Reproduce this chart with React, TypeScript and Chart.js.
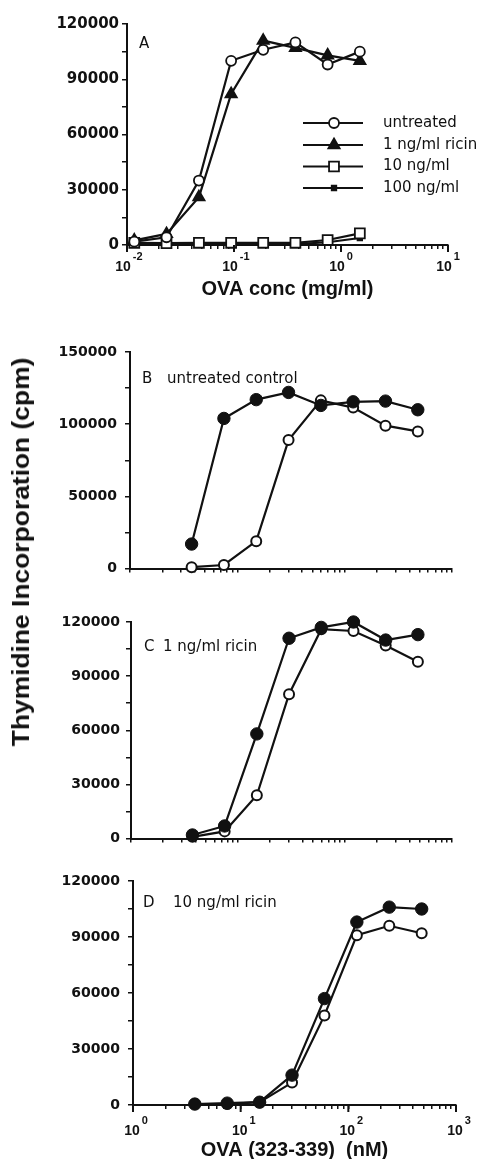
import React, { useEffect, useRef } from 'react';
import { Chart, registerables } from 'chart.js';

Chart.register(...registerables);

// ---------- data ----------
const concA = [0.0117, 0.0234, 0.047, 0.094, 0.1875, 0.375, 0.75, 1.5];
const untreatedA = [1800, 4200, 35000, 100000, 106000, 110000, 98000, 105000];
const ricin1A = [2500, 6000, 26000, 82000, 111000, 107000, 103000, 100000];
const ricin10A = [1200, 1000, 1200, 1200, 1200, 1200, 2700, 6300];
const ricin100A = [500, 400, 500, 500, 500, 500, 1500, 3800];
const legendLabelsA = ['untreated', '1 ng/ml ricin', '10 ng/ml', '100 ng/ml'];

const peptideConc = [3.75, 7.5, 15, 30, 60, 120, 240, 480];
const filledB = [17000, 104000, 117000, 122000, 113000, 115500, 116000, 110000];
const openB = [1000, 2500, 19000, 89000, 116500, 111500, 99000, 95000];
const filledC = [2000, 7000, 58000, 111000, 117000, 120000, 110000, 113000];
const openC = [1000, 4000, 24000, 80000, 116000, 115000, 107000, 98000];
const filledD = [500, 1000, 1500, 16000, 57000, 98000, 106000, 105000];
const openD = [500, 500, 1500, 12000, 48000, 91000, 96000, 92000];

const decadesA = [-2, -1, 0, 1];
const decadesD = [0, 1, 2, 3];
const yMaxA = 120000, yStepA = 15000, yLabelStepA = 30000;
const yMaxB = 150000, yStepB = 25000, yLabelStepB = 50000;
const yMaxCD = 120000, yStepCD = 15000, yLabelStepCD = 30000;

const panelTitleA = 'A';
const panelTitleB = ['B', 'untreated control'];
const panelTitleC = ['C', '1 ng/ml ricin'];
const panelTitleD = ['D', '10 ng/ml ricin'];
const xTitleA = 'OVA conc (mg/ml)';
const xTitleD = 'OVA (323-339)  (nM)';
const yTitle = 'Thymidine Incorporation (cpm)';

// ---------- styling ----------
const INK = '#111';
const TICK_FONT = 'DejaVu Sans';
const TEXT_FONT = '15px "DejaVu Sans"';

const pts = (xs: number[], ys: number[]) => xs.map((x, i) => ({ x, y: ys[i] }));

function logTicks(e0: number, e1: number) {
  const out: { value: number }[] = [];
  for (let e = e0; e < e1; e++) {
    for (let m = 1; m <= 9; m++) out.push({ value: parseFloat((m * Math.pow(10, e)).toPrecision(6)) });
  }
  out.push({ value: Math.pow(10, e1) });
  return out;
}

type Marker = { style: string; r: number; fill: string };

function drawMarker(ctx: CanvasRenderingContext2D, m: Marker, x: number, y: number) {
  ctx.save();
  ctx.fillStyle = m.fill;
  ctx.strokeStyle = INK;
  ctx.lineWidth = 1.8;
  ctx.beginPath();
  if (m.style === 'circle') {
    ctx.arc(x, y, m.r, 0, Math.PI * 2);
  } else if (m.style === 'triangle') {
    for (let k = 0; k < 3; k++) {
      const a = (k * 2 * Math.PI) / 3;
      const px = x + Math.sin(a) * m.r;
      const py = y - Math.cos(a) * m.r;
      if (k === 0) ctx.moveTo(px, py); else ctx.lineTo(px, py);
    }
    ctx.closePath();
  } else {
    const s = Math.SQRT1_2 * m.r;
    ctx.rect(x - s, y - s, 2 * s, 2 * s);
  }
  ctx.fill();
  ctx.stroke();
  ctx.restore();
}

interface OverlayOpts {
  top: number;
  decades?: number[];
  labelDy?: number;
  labelShift?: number;
  texts?: { text: string; x: number; y: number }[];
  legend?: { labels: string[]; markers: Marker[]; x1: number; x2: number; mx: number; tx: number; ys: number[] };
}

function overlayPlugin(o: OverlayOpts) {
  return {
    id: 'overlay',
    afterDraw(chart: any) {
      const ctx: CanvasRenderingContext2D = chart.ctx;
      const ca = chart.chartArea;
      ctx.save();
      ctx.fillStyle = INK;
      ctx.strokeStyle = INK;
      if (o.decades) {
        const xs = chart.scales.x;
        for (const e of o.decades) {
          const x = xs.getPixelForValue(Math.pow(10, e));
          ctx.lineWidth = 2;
          ctx.beginPath();
          ctx.moveTo(x, ca.bottom);
          ctx.lineTo(x, ca.bottom + 7);
          ctx.stroke();
          ctx.font = 'bold 14px "Liberation Sans"';
          ctx.textAlign = 'center';
          ctx.textBaseline = 'middle';
          const cx = x - (o.labelShift || 0);
          const y = ca.bottom + (o.labelDy || 22);
          ctx.fillText('10', cx, y);
          const w = ctx.measureText('10').width;
          ctx.font = 'bold 11px "Liberation Sans"';
          ctx.textAlign = 'left';
          ctx.fillText(String(e), cx + w / 2 + 2, y - 10);
        }
      }
      if (o.texts) {
        ctx.font = TEXT_FONT;
        ctx.textAlign = 'left';
        ctx.textBaseline = 'middle';
        for (const t of o.texts) ctx.fillText(t.text, t.x, t.y - o.top);
      }
      if (o.legend) {
        const L = o.legend;
        L.labels.forEach((lab, i) => {
          const y = L.ys[i] - o.top;
          ctx.lineWidth = 2;
          ctx.beginPath();
          ctx.moveTo(L.x1, y);
          ctx.lineTo(L.x2, y);
          ctx.stroke();
          drawMarker(ctx, L.markers[i], L.mx, y);
          ctx.fillStyle = INK;
          ctx.font = TEXT_FONT;
          ctx.textAlign = 'left';
          ctx.textBaseline = 'middle';
          ctx.fillText(lab, L.tx, y);
        });
      }
      ctx.restore();
    },
  };
}

function yAxis(width: number, max: number, step: number, labelStep: number, size: number, pad: number) {
  return {
    type: 'linear',
    min: 0,
    max,
    afterFit: (s: any) => { s.width = width; },
    border: { display: true, color: INK, width: 2 },
    grid: { display: true, drawOnChartArea: false, drawTicks: true, tickLength: 5, color: INK, lineWidth: 1.5 },
    ticks: {
      stepSize: step,
      autoSkip: false,
      padding: pad,
      color: INK,
      font: { family: TICK_FONT, size, weight: 'bold' },
      callback: (v: number) => (v % labelStep === 0 ? String(v) : ''),
    },
  };
}

function xAxis(e0: number, e1: number, height: number, title?: string) {
  return {
    type: 'logarithmic',
    min: Math.pow(10, e0),
    max: Math.pow(10, e1),
    afterBuildTicks: (s: any) => { s.ticks = logTicks(e0, e1); },
    afterFit: (s: any) => { s.height = height; },
    border: { display: true, color: INK, width: 2 },
    grid: { display: true, drawOnChartArea: false, drawTicks: true, tickLength: 4, color: INK, lineWidth: 1.5 },
    ticks: { display: false, autoSkip: false },
    title: title
      ? { display: true, text: title, color: INK, padding: 0, font: { family: 'Liberation Sans', size: 20, weight: 'bold' } }
      : { display: false },
  };
}

const lineBase = { borderColor: INK, borderWidth: 2.2, tension: 0, clip: false as any, pointBorderColor: INK };

const markersA: Marker[] = [
  { style: 'circle', r: 5, fill: '#fff' },
  { style: 'triangle', r: 6.5, fill: INK },
  { style: 'rect', r: 7, fill: '#fff' },
  { style: 'rect', r: 3.2, fill: INK },
];

function dsA() {
  const series = [untreatedA, ricin1A, ricin10A, ricin100A];
  return series.map((s, i) => ({
    ...lineBase,
    label: legendLabelsA[i],
    data: pts(concA, s),
    pointStyle: markersA[i].style,
    pointRadius: markersA[i].r,
    pointBackgroundColor: markersA[i].fill,
    pointBorderWidth: 1.8,
  }));
}

function dsPair(filled: number[], open: number[]) {
  return [
    { ...lineBase, label: 'filled', data: pts(peptideConc, filled), pointStyle: 'circle', pointRadius: 6.2, pointBackgroundColor: INK, pointBorderWidth: 1 },
    { ...lineBase, label: 'open', data: pts(peptideConc, open), pointStyle: 'circle', pointRadius: 5, pointBackgroundColor: '#fff', pointBorderWidth: 2 },
  ];
}

interface PanelDef {
  top: number;
  height: number;
  padding: { top: number; right: number; left: number; bottom: number };
  datasets: any[];
  scales: any;
  overlay: OverlayOpts;
}

const panels: PanelDef[] = [
  {
    top: 0,
    height: 301,
    padding: { top: 24, right: 32, left: 0, bottom: 0 },
    datasets: dsA(),
    scales: { x: xAxis(-2, 1, 56, xTitleA), y: yAxis(127, yMaxA, yStepA, yLabelStepA, 15, 3) },
    overlay: {
      top: 0,
      decades: decadesA,
      labelDy: 22,
      labelShift: 4,
      texts: [{ text: panelTitleA, x: 139, y: 44 }],
      legend: { labels: legendLabelsA, markers: markersA, x1: 303, x2: 363, mx: 334, tx: 383, ys: [123, 145, 166.5, 188] },
    },
  },
  {
    top: 330,
    height: 255,
    padding: { top: 22, right: 28, left: 0, bottom: 0 },
    datasets: dsPair(filledB, openB),
    scales: { x: xAxis(0, 3, 10), y: yAxis(130, yMaxB, yStepB, yLabelStepB, 14, 8) },
    overlay: { top: 330, texts: [{ text: panelTitleB[0], x: 142, y: 379 }, { text: panelTitleB[1], x: 167, y: 379 }] },
  },
  {
    top: 600,
    height: 253,
    padding: { top: 22, right: 28, left: 0, bottom: 0 },
    datasets: dsPair(filledC, openC),
    scales: { x: xAxis(0, 3, 10), y: yAxis(131, yMaxCD, yStepCD, yLabelStepCD, 14, 6) },
    overlay: { top: 600, texts: [{ text: panelTitleC[0], x: 144, y: 647 }, { text: panelTitleC[1], x: 163, y: 647 }] },
  },
  {
    top: 860,
    height: 302,
    padding: { top: 21, right: 24, left: 0, bottom: 0 },
    datasets: dsPair(filledD, openD),
    scales: { x: xAxis(0, 3, 57, xTitleD), y: yAxis(133, yMaxCD, yStepCD, yLabelStepCD, 14, 8) },
    overlay: {
      top: 860,
      decades: decadesD,
      labelDy: 26,
      labelShift: 1,
      texts: [{ text: panelTitleD[0], x: 143, y: 903 }, { text: panelTitleD[1], x: 173, y: 903 }],
    },
  },
];

function Panel({ def }: { def: PanelDef }) {
  const ref = useRef<HTMLCanvasElement>(null);
  useEffect(() => {
    const chart = new Chart(ref.current as HTMLCanvasElement, {
      type: 'line',
      data: { datasets: def.datasets },
      options: {
        animation: false,
        responsive: false,
        maintainAspectRatio: false,
        devicePixelRatio: 1,
        layout: { padding: def.padding },
        plugins: { legend: { display: false }, tooltip: { enabled: false } },
        scales: def.scales,
      } as any,
      plugins: [overlayPlugin(def.overlay) as any],
    });
    return () => chart.destroy();
  }, []);
  return (
    <canvas
      ref={ref}
      width={480}
      height={def.height}
      style={{ position: 'absolute', left: 0, top: def.top, width: 480, height: def.height }}
    />
  );
}

export default function App() {
  return (
    <div style={{ position: 'fixed', left: 0, top: 0, width: 480, height: 1159, overflow: 'hidden', background: '#fff' }}>
      {panels.map((p, i) => (
        <Panel key={i} def={p} />
      ))}
      <div
        style={{
          position: 'absolute',
          left: 21,
          top: 552,
          transform: 'translate(-50%, -50%) rotate(-90deg) scaleX(1.1)',
          whiteSpace: 'nowrap',
          fontFamily: '"Liberation Sans", Arial, sans-serif',
          fontWeight: 'bold',
          fontSize: 24,
          color: INK,
          lineHeight: 1,
        }}
      >
        {yTitle}
      </div>
    </div>
  );
}
